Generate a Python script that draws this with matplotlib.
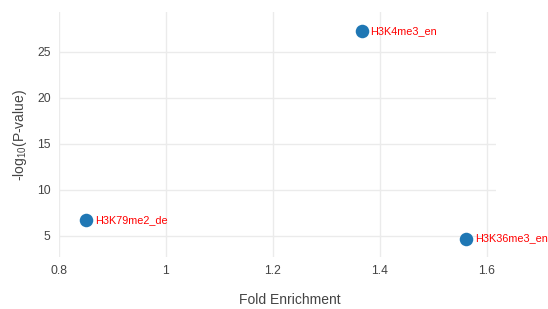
import matplotlib
matplotlib.use("Agg")
import matplotlib.pyplot as plt

# data
marks = ["H3K4me3_en", "H3K79me2_de", "H3K36me3_en"]
fold_enrichment = [1.366, 0.851, 1.561]
neg_log_p = [27.3, 6.75, 4.7]

x_ticks = [0.8, 1.0, 1.2, 1.4, 1.6]
x_tick_labels = ["0.8", "1", "1.2", "1.4", "1.6"]
y_ticks = [5, 10, 15, 20, 25]

plt.rcParams["font.family"] = ["Liberation Sans", "DejaVu Sans"]
plt.rcParams["mathtext.fontset"] = "custom"
plt.rcParams["mathtext.rm"] = "Liberation Sans"

W, H = 548, 309
fig = plt.figure(figsize=(W / 100, H / 100), dpi=100)

# plot area in pixels (left, top, right, bottom)
l, t, r, b = 59, 12, 496, 257
ax = fig.add_axes([l / W, 1 - b / H, (r - l) / W, (b - t) / H])

ax.scatter(fold_enrichment, neg_log_p, s=95, color="#1f77b4", zorder=3,
           linewidths=0, clip_on=False)
for xv, yv, name in zip(fold_enrichment, neg_log_p, marks):
    ax.annotate(name, (xv, yv), xytext=(6.3, 0), textcoords="offset points",
                ha="left", va="center", color="#ff0000", fontsize=7.8,
                annotation_clip=False)

ax.set_xlim(0.8, 1.617)
ax.set_ylim(2.7, 29.35)
ax.set_xticks(x_ticks)
ax.set_xticklabels(x_tick_labels)
ax.set_yticks(y_ticks)

for s in ax.spines.values():
    s.set_visible(False)
ax.grid(True, color="#ebebeb", linewidth=1)
ax.set_axisbelow(True)
ax.tick_params(length=0, labelsize=8.7, colors="#444444", pad=6)

ax.set_xlabel("Fold Enrichment", fontsize=10, color="#444444")
ax.xaxis.set_label_coords((290 - l) / (r - l), (b - 300) / (b - t))
ax.xaxis.label.set_va("center")
ax.set_ylabel("-log$_{10}$(P-value)", fontsize=10, color="#444444")
ax.yaxis.set_label_coords((20 - l) / (r - l), (b - 135) / (b - t))
ax.yaxis.label.set_va("center")

fig.savefig("out.png", dpi=100)
